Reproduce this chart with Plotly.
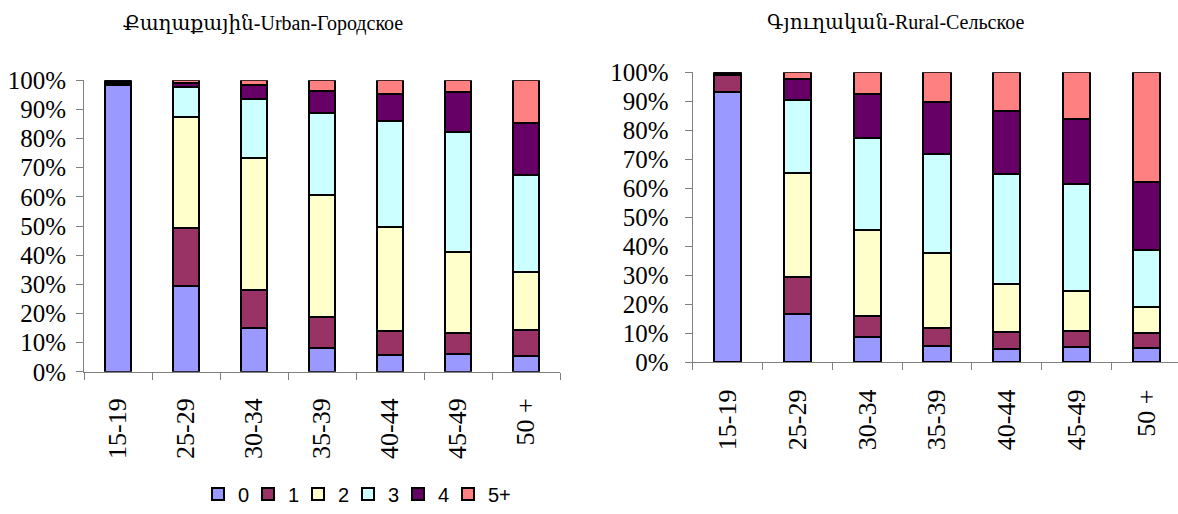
import plotly.graph_objects as go

categories = ["15-19", "25-29", "30-34", "35-39", "40-44", "45-49", "50 +"]
series_names = ["0", "1", "2", "3", "4", "5+"]
colors = ["#9999FF", "#993366", "#FFFFCC", "#CCFFFF", "#660066", "#FF8080"]

# Urban shares (%) per number of children
urban_0 = [98.2, 29.6, 15.1, 8.0, 5.7, 6.0, 5.4]
urban_1 = [0.8, 19.8, 13.0, 10.9, 8.3, 7.3, 8.8]
urban_2 = [0.2, 38.0, 45.1, 41.6, 35.5, 27.9, 20.2]
urban_3 = [0.3, 10.3, 20.5, 28.1, 36.4, 40.9, 33.0]
urban_4 = [0.5, 1.2, 4.6, 7.7, 9.5, 13.8, 18.1]
urban_5 = [0.0, 1.1, 1.7, 3.7, 4.6, 4.1, 14.5]

# Rural shares (%)
rural_0 = [93.1, 16.7, 8.7, 5.7, 4.6, 5.2, 4.8]
rural_1 = [5.9, 12.8, 7.2, 6.1, 5.8, 5.4, 5.2]
rural_2 = [0.2, 35.8, 29.8, 26.0, 16.5, 13.9, 8.9]
rural_3 = [0.2, 25.1, 31.8, 33.9, 38.1, 36.9, 19.7]
rural_4 = [0.6, 7.4, 14.9, 18.0, 21.6, 22.6, 23.7]
rural_5 = [0.0, 2.2, 7.6, 10.3, 13.4, 16.0, 37.7]

y_ticks = [0, 10, 20, 30, 40, 50, 60, 70, 80, 90, 100]
y_tick_labels = ["0%", "10%", "20%", "30%", "40%", "50%", "60%", "70%", "80%", "90%", "100%"]

urban = [urban_0, urban_1, urban_2, urban_3, urban_4, urban_5]
rural = [rural_0, rural_1, rural_2, rural_3, rural_4, rural_5]

W, H = 1178, 514
SERIF = "Liberation Serif"
SANS = "Liberation Sans"

fig = go.Figure()
for i, name in enumerate(series_names):
    fig.add_trace(go.Bar(
        x=categories, y=urban[i], name=name, width=0.37,
        marker=dict(color=colors[i], line=dict(color="black", width=2)),
        xaxis="x", yaxis="y", legendgroup=name, showlegend=True,
    ))
for i, name in enumerate(series_names):
    fig.add_trace(go.Bar(
        x=categories, y=rural[i], name=name, width=0.39,
        marker=dict(color=colors[i], line=dict(color="black", width=2)),
        xaxis="x2", yaxis="y2", legendgroup=name, showlegend=False,
    ))
# invisible spacer entry so the last legend label is not clipped
fig.add_trace(go.Bar(
    x=[None], y=[None], name=" ", showlegend=True, hoverinfo="skip",
    marker=dict(color="rgba(0,0,0,0)", line=dict(width=0)),
    xaxis="x", yaxis="y",
))

def px_x(v):
    return v / W

def px_y(v):
    return (H - v) / H

axis_common = dict(
    showgrid=False, zeroline=False, showline=True, linecolor="#808080", linewidth=1,
    ticks="outside", ticklen=7, tickcolor="#808080", tickwidth=1, automargin=False,
)

arm_style = "font-family:DejaVu Serif"

fig.update_layout(
    width=W, height=H,
    margin=dict(l=0, r=0, t=0, b=0, pad=0),
    paper_bgcolor="white", plot_bgcolor="white",
    barmode="stack",
    xaxis=dict(domain=[px_x(84), px_x(560)], range=[-0.5, 6.5], type="category",
               tickson="boundaries", tickangle=-90, anchor="y",
               tickfont=dict(family=SERIF, size=26, color="black"),
               ticklabelstandoff=15, **axis_common),
    yaxis=dict(domain=[px_y(374), px_y(80.7)], range=[0, 100], anchor="x",
               tickmode="array", tickvals=y_ticks, ticktext=y_tick_labels,
               tickfont=dict(family=SERIF, size=25, color="black"),
               ticklabelstandoff=5, **axis_common),
    xaxis2=dict(domain=[px_x(692.7), 1.0], range=[-0.5, 6.453], type="category",
                tickson="boundaries", tickangle=-90, anchor="y2",
                tickfont=dict(family=SERIF, size=26, color="black"),
                ticklabelstandoff=16, **axis_common),
    yaxis2=dict(domain=[px_y(364.3), px_y(72.7)], range=[0, 100], anchor="x2",
                tickmode="array", tickvals=y_ticks, ticktext=y_tick_labels,
                tickfont=dict(family=SERIF, size=25, color="black"),
                ticklabelstandoff=11, **axis_common),
    legend=dict(orientation="h", x=px_x(198), xanchor="left", y=px_y(497), yanchor="middle",
                traceorder="normal", entrywidth=5, entrywidthmode="pixels",
                font=dict(family=SANS, size=20, color="black"),
                bgcolor="rgba(0,0,0,0)"),
    annotations=[
        dict(text=f"<span style='{arm_style}'>Քաղաքային</span>-Urban-Городское",
             x=px_x(262.5), y=px_y(23.5), xref="paper", yref="paper",
             xanchor="center", yanchor="middle", showarrow=False,
             font=dict(family=SERIF, size=20, color="black")),
        dict(text=f"<span style='{arm_style}'>Գյուղական</span>-Rural-Сельское",
             x=px_x(895), y=px_y(22.5), xref="paper", yref="paper",
             xanchor="center", yanchor="middle", showarrow=False,
             font=dict(family=SERIF, size=20, color="black")),
    ],
)

fig.write_html("out.html", config={"displayModeBar": False},
               post_script="document.body.style.margin='0';document.body.style.padding='0';")
